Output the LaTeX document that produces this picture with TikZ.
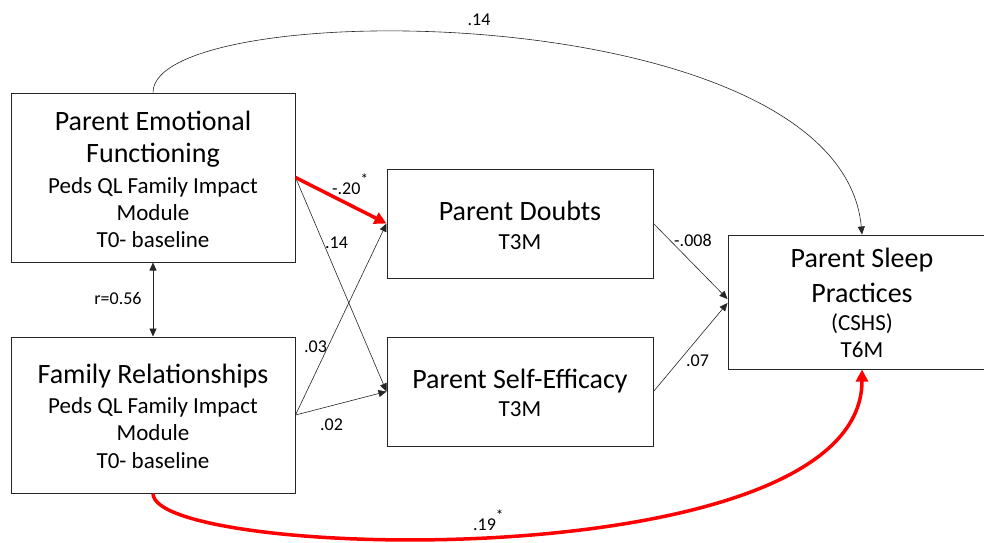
\documentclass[tikz,border=0pt]{standalone}
\usepackage{fontspec}
\setmainfont{Carlito}
\usetikzlibrary{arrows.meta}

\newcommand{\sigstar}{\raisebox{0.55em}{\fontsize{15}{15}\selectfont *}}

\tikzset{
  box/.style={draw=black!85, line width=1pt, rectangle, inner sep=0pt},
  ttl/.style={anchor=base, inner sep=0pt, font=\fontsize{28}{28}\selectfont},
  sub/.style={anchor=base, inner sep=0pt, font=\fontsize{23}{23}\selectfont},
  coef/.style={anchor=base west, inner sep=0pt, font=\fontsize{18}{18}\selectfont},
  link/.style={draw=black!85, line width=0.6pt, -{Triangle[length=8pt,width=7pt]}},
  sig/.style={draw=red, line width=3.5pt, -{Triangle[length=12pt,width=12pt]}},
}

\begin{document}
\begin{tikzpicture}[x=1pt,y=-1pt]
\useasboundingbox (0,0) rectangle (984,542);
\fill[white] (0,0) rectangle (984,542);
\clip (0,0) rectangle (984,542);

% boxes
\node[box, minimum width=284pt, minimum height=169pt] (pef) at (153,177.5) {};
\node[box, minimum width=284pt, minimum height=156pt] (fr)  at (153,415) {};
\node[box, minimum width=266pt, minimum height=109pt] (pd)  at (520,223.5) {};
\node[box, minimum width=266pt, minimum height=109pt] (pse) at (520,391.5) {};
\node[box, minimum width=268pt, minimum height=134pt] (psp) at (862,302) {};

% box texts
\node[ttl] (pef1) at (153,130) {Parent Emotional};
\node[ttl] (pef2) at (153,162) {Functioning};
\node[sub] (pef3) at (153,193) {Peds QL Family Impact};
\node[sub] (pef4) at (153,220) {Module};
\node[sub] (pef5) at (153,247) {T0- baseline};

\node[ttl] (fr1) at (153,383) {Family Relationships};
\node[sub] (fr2) at (153,413) {Peds QL Family Impact};
\node[sub] (fr3) at (153,440) {Module};
\node[sub] (fr4) at (153,468) {T0- baseline};

\node[ttl] (pd1) at (520,220) {Parent Doubts};
\node[sub] (pd2) at (520,249) {T3M};

\node[ttl] (pse1) at (520,388) {Parent Self-Efficacy};
\node[sub] (pse2) at (520,416) {T3M};

\node[ttl] (psp1) at (862,267) {Parent Sleep};
\node[ttl] (psp2) at (862,302) {Practices};
\node[sub] (psp3) at (862,330) {(CSHS)};
\node[sub] (psp4) at (862,357) {T6M};

% paths
\draw[link] (pef.east) -- (pse.west);
\draw[link] (fr.east) -- (pd.west);
\draw[link] (fr.east) -- (pse.west);
\draw[sig]  (pef.east) -- (pd.west);
\draw[link] (pd.east) -- ([yshift=3pt]psp.west);
\draw[link] (pse.east) -- ([yshift=-1pt]psp.west);
\draw[link, {Triangle[length=8pt,width=7pt]}-{Triangle[length=8pt,width=7pt]}] (pef.south) -- (fr.north);
\draw[link] (pef.north) .. controls (153,-5) and (840,-5) .. (psp.north);
\draw[sig]  (fr.south) .. controls (153,560) and (862,580) .. (psp.south);

% coefficients
\node[coef] (c1) at (332,194) {-.20\sigstar};
\node[coef] (c2) at (325,248) {.14};
\node[coef] (c3) at (304,352) {.03};
\node[coef] (c4) at (320,430) {.02};
\node[coef] (c5) at (674,246) {-.008};
\node[coef] (c6) at (686,366) {.07};
\node[coef, anchor=center] (c7) at (479,20) {.14};
\node[coef] (c8) at (473,530) {.19\sigstar};
\node[coef, anchor=center] (c9) at (118,298) {r=0.56};
\end{tikzpicture}
\end{document}
